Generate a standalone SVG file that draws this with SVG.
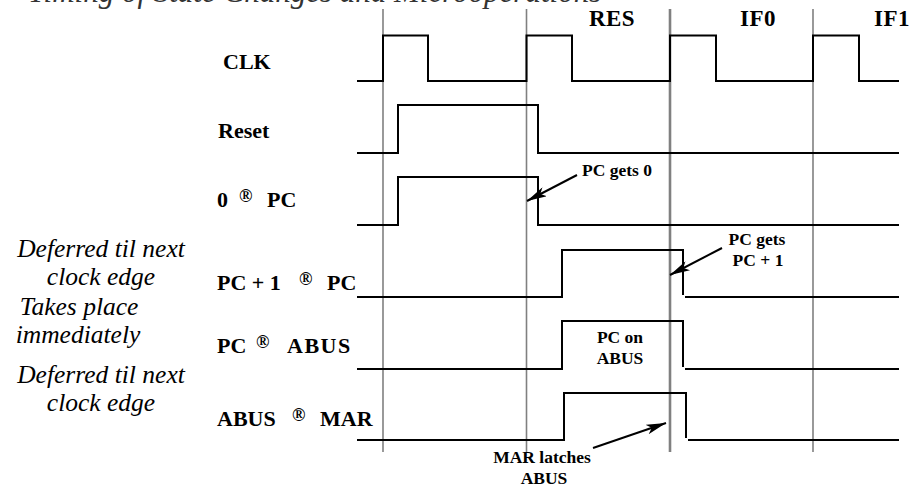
<svg xmlns="http://www.w3.org/2000/svg" width="914" height="488" viewBox="0 0 914 488">
<style>
.bg{fill:#ffffff}
.grid{stroke:#808080;stroke-width:1.6;fill:none}
.gridb{stroke:#808080;stroke-width:2.6;fill:none}
.wave{stroke:#000;stroke-width:2;fill:none;stroke-linejoin:miter;stroke-linecap:square}
.lbl{font-family:"Liberation Serif","Times New Roman",serif;font-weight:bold;font-size:22px;fill:#000}
.reg{font-size:18px}
.note{font-family:"Liberation Serif","Times New Roman",serif;font-style:italic;font-size:25.5px;fill:#000;text-anchor:middle}
.ann{font-family:"Liberation Serif","Times New Roman",serif;font-weight:bold;font-size:17.5px;fill:#000}
.st{font-family:"Liberation Serif","Times New Roman",serif;font-weight:bold;font-size:23px;fill:#000;text-anchor:middle;letter-spacing:0.5px}
.title{font-family:"Liberation Serif","Times New Roman",serif;font-style:italic;font-size:31px;fill:#333}
.arr{stroke:#000;stroke-width:2;fill:none}
</style>
<defs>
<marker id="ah" viewBox="0 0 20 10" refX="20" refY="5" markerWidth="20" markerHeight="10" markerUnits="userSpaceOnUse" orient="auto">
<path d="M0,0 L20,5 L0,10 L5,5 Z" fill="#000"/>
</marker>
</defs>
<rect class="bg" x="0" y="0" width="914" height="488"/>
<text class="title" x="28" y="2">Timing of State Changes and Microoperations</text>
<g id="clock-edges">
<line class="grid" x1="383" y1="9" x2="383" y2="452"/>
<line class="grid" x1="526.5" y1="9" x2="526.5" y2="452"/>
<line class="gridb" x1="670" y1="9" x2="670" y2="452"/>
<line class="grid" x1="813" y1="9" x2="813" y2="452"/>
</g>
<g id="states">
<text class="st" x="612" y="26">RES</text>
<text class="st" x="758" y="26">IF0</text>
<text class="st" x="892" y="26">IF1</text>
</g>
<g id="sig-clk">
<text class="lbl" x="223" y="69">CLK</text>
<path class="wave" d="M358,81 H383 V35.5 H428 V81 H526.5 V35.5 H572 V81 H670 V35.5 H716 V81 H813 V35.5 H859 V81 H898"/>
</g>
<g id="sig-reset">
<text class="lbl" x="218" y="138">Reset</text>
<path class="wave" d="M358,153 H398 V105 H538 V153 H898"/>
</g>
<g id="sig-zero-pc">
<text class="lbl" x="217" y="207"><tspan>0</tspan><tspan class="reg" x="239" y="202">®</tspan><tspan x="267" y="207">PC</tspan></text>
<path class="wave" d="M358,225 H398 V177 H538 V225 H898"/>
</g>
<g id="sig-pc-inc">
<text class="lbl" x="217" y="290"><tspan>PC + 1</tspan><tspan class="reg" x="299" y="285">®</tspan><tspan x="327" y="290">PC</tspan></text>
<path class="wave" d="M358,297 H562 V250 H683 V294"/>
<path class="wave" d="M686,297 H898"/>
<text class="note" x="101" y="257">Deferred til next</text>
<text class="note" x="101" y="285">clock edge</text>
</g>
<g id="sig-pc-abus">
<text class="lbl" x="217" y="353"><tspan>PC</tspan><tspan class="reg" x="256" y="348">®</tspan><tspan x="287" y="353" letter-spacing="1.5">ABUS</tspan></text>
<path class="wave" d="M358,369 H562 V321 H683 V366"/>
<path class="wave" d="M686,369 H898"/>
<text class="note" x="79" y="315">Takes place</text>
<text class="note" x="78" y="343">immediately</text>
<text class="ann" x="620" y="343" text-anchor="middle">PC on</text>
<text class="ann" x="620" y="364" text-anchor="middle">ABUS</text>
</g>
<g id="sig-abus-mar">
<text class="lbl" x="217" y="426"><tspan>ABUS</tspan><tspan class="reg" x="292" y="421">®</tspan><tspan x="320" y="426">MAR</tspan></text>
<path class="wave" d="M358,440 H564 V393 H686 V437"/>
<path class="wave" d="M689,440 H898"/>
<text class="note" x="101" y="383">Deferred til next</text>
<text class="note" x="101" y="411">clock edge</text>
</g>
<g id="annotations">
<text class="ann" x="582" y="176">PC gets 0</text>
<text class="ann" x="757" y="245" text-anchor="middle">PC gets</text>
<text class="ann" x="758" y="266" text-anchor="middle">PC + 1</text>
<text class="ann" x="542" y="463" text-anchor="middle">MAR latches</text>
<text class="ann" x="544" y="484" text-anchor="middle">ABUS</text>
</g>
<g id="connectors">
<line class="arr" x1="577" y1="175" x2="527" y2="201" marker-end="url(#ah)"/>
<line class="arr" x1="722" y1="248" x2="670" y2="275" marker-end="url(#ah)"/>
<line class="arr" x1="593" y1="448" x2="666" y2="423" marker-end="url(#ah)"/>
</g>
</svg>
